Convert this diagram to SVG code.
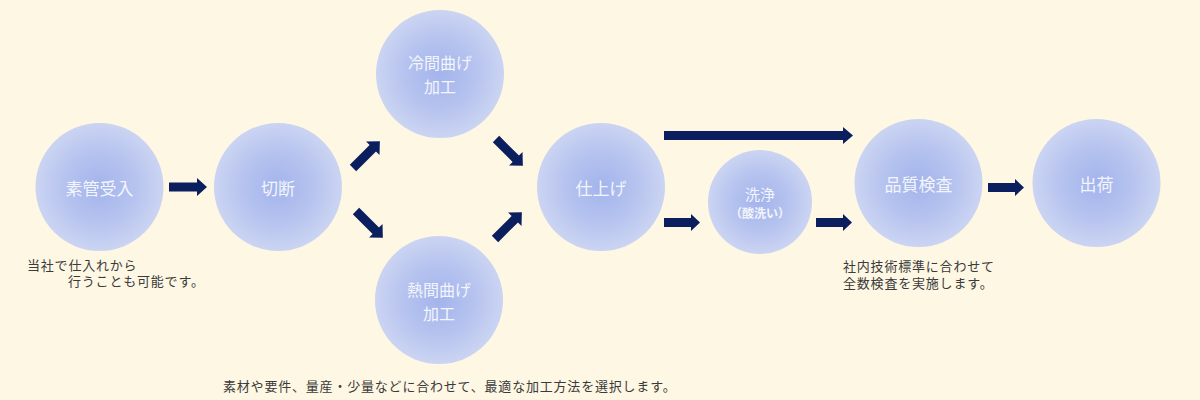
<svg xmlns="http://www.w3.org/2000/svg" width="1200" height="400" viewBox="0 0 1200 400">
<defs>
<radialGradient id="g" cx="50%" cy="50%" r="50%">
<stop offset="0" stop-color="#A3B4EC"/>
<stop offset="0.55" stop-color="#B6C3EF"/>
<stop offset="1" stop-color="#CBD4F2"/>
</radialGradient>
<path id="darr" d="M0,-4.5 H28 V-9.5 L38,0 L28,9.5 V4.5 H0 Z"/>
</defs>
<style>
.c{fill:url(#g)}
.lbl{font-family:"Noto Sans CJK JP","Noto Sans",sans-serif;font-size:17px;fill:#F3F5FC;text-anchor:middle;dominant-baseline:central}
.two{font-size:16px}
.sub{font-size:12px;font-weight:bold;font-feature-settings:"halt"}
.cap{font-family:"Noto Sans CJK JP","Noto Sans",sans-serif;font-size:13px;letter-spacing:0.8px;fill:#3A3A3A;dominant-baseline:central}
.arr{fill:#0B1F5E}
</style>
<rect width="1200" height="400" fill="#FDF7E4"/>

<g id="n-sokan">
<circle class="c" cx="99.5" cy="187" r="64"/>
<text class="lbl" x="99.5" y="187">素管受入</text>
</g>
<g id="n-setsudan">
<circle class="c" cx="278" cy="187" r="64"/>
<text class="lbl" x="278" y="187">切断</text>
</g>
<g id="n-reikan">
<circle class="c" cx="440" cy="74" r="64"/>
<text class="lbl two" x="440" y="62">冷間曲げ</text>
<text class="lbl two" x="440" y="85.5">加工</text>
</g>
<g id="n-netsukan">
<circle class="c" cx="439" cy="300" r="64"/>
<text class="lbl two" x="439" y="289">熱間曲げ</text>
<text class="lbl two" x="439" y="312.5">加工</text>
</g>
<g id="n-shiage">
<circle class="c" cx="601" cy="187" r="64"/>
<text class="lbl" x="601" y="187">仕上げ</text>
</g>
<g id="n-senjo">
<circle class="c" cx="760" cy="202" r="52"/>
<text class="lbl" style="font-size:15px"><tspan x="760" y="193">洗浄</tspan><tspan class="sub" x="760" y="212">（酸洗い）</tspan></text>
</g>
<g id="n-hinshitsu">
<circle class="c" cx="918.5" cy="183" r="64"/>
<text class="lbl" x="918.5" y="183">品質検査</text>
</g>
<g id="n-shukka">
<circle class="c" cx="1096.5" cy="183" r="64"/>
<text class="lbl" x="1096.5" y="183">出荷</text>
</g>

<g id="connectors" class="arr">
<path d="M169,182.5 H197 V178 L207,187 L197,196 V191.5 H169 Z"/>
<use href="#darr" transform="translate(353,168) rotate(-45)"/>
<use href="#darr" transform="translate(356,211) rotate(45)"/>
<use href="#darr" transform="translate(496,139) rotate(45)"/>
<use href="#darr" transform="translate(495,239) rotate(-45)"/>
<path d="M664,131 H843 V127 L853,135.5 L843,144 V140 H664 Z"/>
<path d="M664,218 H691 V214 L700,222.5 L691,231 V227 H664 Z"/>
<path d="M816,218 H843 V214 L852,222.5 L843,231 V227 H816 Z"/>
<path d="M988,183 H1015 V179 L1024,187.5 L1015,196 V192 H988 Z"/>
</g>

<g id="captions">
<text class="cap"><tspan x="27" y="264">当社で仕入れから</tspan><tspan x="68" y="280">行うことも可能です。</tspan></text>
<text class="cap"><tspan x="843" y="265">社内技術標準に合わせて</tspan><tspan x="843" y="282">全数検査を実施します。</tspan></text>
<text class="cap" x="223" y="385">素材や要件、量産・少量などに合わせて、最適な加工方法を選択します。</text>
</g>
</svg>
